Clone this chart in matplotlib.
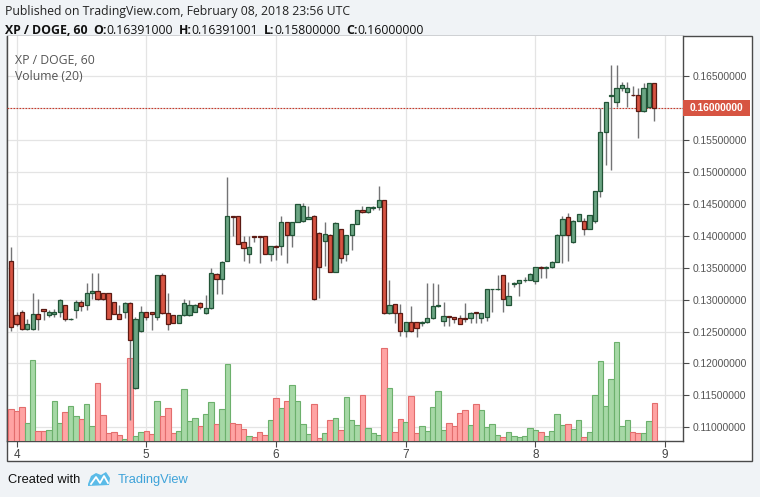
import numpy as np
import matplotlib
matplotlib.use('Agg')
import matplotlib.pyplot as plt
from matplotlib.patches import Rectangle, Polygon
from matplotlib.transforms import blended_transform_factory, ScaledTranslation

# ---------------- data (hourly candles, hours relative to Feb 4 00:00) ----------------
hours = list(range(-1, 119))
opens = [0.13605, 0.12755, 0.12802, 0.12536, 0.12536, 0.12775, 0.12849, 0.12755, 0.12780, 0.12807,
         0.12911, 0.12690, 0.12843, 0.12959, 0.12911, 0.13100, 0.13135, 0.13099, 0.13099, 0.12959,
         0.12775, 0.12802, 0.12943, 0.11612, 0.12505, 0.12802, 0.12802, 0.12724, 0.13381, 0.12797,
         0.12755, 0.12630, 0.12755, 0.12755, 0.12800, 0.12943, 0.12786, 0.12864, 0.13401, 0.13318,
         0.13605, 0.14310, 0.14309, 0.13902, 0.13710, 0.13992, 0.13992, 0.13991, 0.13710, 0.13840,
         0.13840, 0.14210, 0.14007, 0.14210, 0.14236, 0.14260, 0.14304, 0.14038, 0.13913, 0.14012,
         0.13428, 0.14101, 0.13714, 0.14007, 0.14179, 0.14398, 0.14367, 0.14440, 0.14445, 0.14555,
         0.12786, 0.12927, 0.12786, 0.12509, 0.12645, 0.12645, 0.12630, 0.12645, 0.12708, 0.12900,
         0.12666, 0.12740, 0.12720, 0.12708, 0.12710, 0.12708, 0.12800, 0.12708, 0.12733, 0.13160,
         0.13160, 0.13386, 0.12911, 0.13250, 0.13256, 0.13300, 0.13303, 0.13296, 0.13510, 0.13500,
         0.13506, 0.13594, 0.14012, 0.14298, 0.13897, 0.14231, 0.14231, 0.14106, 0.14231, 0.14700,
         0.15619, 0.16190, 0.16098, 0.16308, 0.16245, 0.16210, 0.16203, 0.15952, 0.16020, 0.16391]
highs = [0.13819, 0.12811, 0.12830, 0.12697, 0.13109, 0.13010, 0.12850, 0.12838, 0.12850, 0.13010,
         0.12920, 0.12710, 0.12994, 0.12990, 0.13265, 0.13417, 0.13420, 0.13110, 0.13110, 0.12960,
         0.12910, 0.12960, 0.12960, 0.12720, 0.12905, 0.12810, 0.12810, 0.13390, 0.13412, 0.13100,
         0.12760, 0.12755, 0.13010, 0.12990, 0.12930, 0.12960, 0.13073, 0.13490, 0.13420, 0.13600,
         0.14915, 0.14310, 0.14310, 0.13996, 0.13990, 0.14000, 0.14000, 0.14000, 0.13840, 0.13850,
         0.14310, 0.14210, 0.14210, 0.14500, 0.14510, 0.14460, 0.14320, 0.14050, 0.14220, 0.14020,
         0.14210, 0.14110, 0.14010, 0.14180, 0.14400, 0.14470, 0.14450, 0.14470, 0.14779, 0.14560,
         0.13307, 0.12930, 0.12930, 0.12650, 0.12905, 0.12650, 0.12660, 0.13256, 0.13260, 0.13250,
         0.12963, 0.12740, 0.12720, 0.12760, 0.12950, 0.12810, 0.12800, 0.12790, 0.13170, 0.13170,
         0.13386, 0.13390, 0.13280, 0.13270, 0.13310, 0.13350, 0.13410, 0.13510, 0.13520, 0.13520,
         0.13600, 0.14020, 0.14314, 0.14351, 0.14250, 0.14340, 0.14280, 0.14320, 0.14700, 0.15994,
         0.16100, 0.16672, 0.16672, 0.16410, 0.16410, 0.16340, 0.16308, 0.16386, 0.16386, 0.16391001]
lows = [0.12514, 0.12588, 0.12520, 0.12530, 0.12530, 0.12530, 0.12681, 0.12724, 0.12720, 0.12720,
        0.12670, 0.12680, 0.12708, 0.12827, 0.12830, 0.13015, 0.13000, 0.13000, 0.12700, 0.12770,
        0.12690, 0.12710, 0.11116, 0.11600, 0.12500, 0.12681, 0.12525, 0.12680, 0.12780, 0.12525,
        0.12630, 0.12630, 0.12750, 0.12750, 0.12800, 0.12850, 0.12780, 0.12860, 0.13088, 0.13090,
        0.13600, 0.14000, 0.13871, 0.13610, 0.13570, 0.13900, 0.13570, 0.13710, 0.13610, 0.13620,
        0.13699, 0.13569, 0.13830, 0.14210, 0.14210, 0.14260, 0.13000, 0.13021, 0.13527, 0.13428,
        0.13428, 0.13570, 0.13610, 0.13770, 0.14180, 0.14360, 0.14360, 0.14400, 0.14400, 0.12780,
        0.12780, 0.12630, 0.12430, 0.12420, 0.12500, 0.12420, 0.12590, 0.12640, 0.12700, 0.12880,
        0.12580, 0.12580, 0.12630, 0.12610, 0.12650, 0.12630, 0.12630, 0.12630, 0.12660, 0.12810,
        0.13150, 0.12810, 0.12910, 0.13200, 0.13050, 0.13280, 0.13300, 0.13245, 0.13334, 0.13330,
        0.13500, 0.13590, 0.13569, 0.13610, 0.13890, 0.14230, 0.14010, 0.14100, 0.14200, 0.14611,
        0.15107, 0.15029, 0.16020, 0.16260, 0.16020, 0.16180, 0.15525, 0.15940, 0.16000, 0.15800]
closes = [0.12577, 0.12614, 0.12536, 0.12614, 0.12775, 0.12702, 0.12827, 0.12807, 0.12810, 0.12994,
          0.12692, 0.12700, 0.12959, 0.12900, 0.13099, 0.13135, 0.13005, 0.13015, 0.12702, 0.12775,
          0.12690, 0.12943, 0.12364, 0.12702, 0.12802, 0.12724, 0.12770, 0.13381, 0.12786, 0.12619,
          0.12630, 0.12755, 0.12943, 0.12921, 0.12910, 0.12880, 0.12864, 0.13412, 0.13318, 0.13594,
          0.14309, 0.14300, 0.13871, 0.13803, 0.13824, 0.13980, 0.13980, 0.13710, 0.13840, 0.13830,
          0.14210, 0.14007, 0.14210, 0.14492, 0.14465, 0.14300, 0.13005, 0.13516, 0.14023, 0.13428,
          0.14195, 0.13656, 0.14007, 0.14179, 0.14398, 0.14367, 0.14445, 0.14450, 0.14555, 0.12786,
          0.12911, 0.12786, 0.12509, 0.12645, 0.12509, 0.12561, 0.12650, 0.12708, 0.12905, 0.12910,
          0.12744, 0.12720, 0.12700, 0.12614, 0.12700, 0.12796, 0.12790, 0.12786, 0.13167, 0.13170,
          0.13170, 0.13005, 0.13057, 0.13260, 0.13303, 0.13310, 0.13401, 0.13506, 0.13500, 0.13510,
          0.13594, 0.14012, 0.14257, 0.14012, 0.14231, 0.14336, 0.14106, 0.14320, 0.14700, 0.15619,
          0.16098, 0.16210, 0.16308, 0.16355, 0.16308, 0.16200, 0.15952, 0.16308, 0.16386, 0.16000]
volumes = [96, 90, 102, 53, 239, 30, 30, 33, 120, 54,
           87, 105, 75, 66, 111, 45, 171, 78, 24, 27,
           18, 6, 245, 15, 27, 30, 21, 120, 75, 99,
           24, 30, 153, 60, 69, 45, 81, 117, 51, 96,
           227, 54, 51, 36, 15, 12, 27, 18, 63, 126,
           99, 120, 165, 120, 51, 21, 111, 9, 24, 63,
           69, 33, 129, 63, 48, 135, 39, 24, 18, 276,
           156, 27, 66, 57, 132, 24, 45, 30, 102, 147,
           33, 54, 45, 82, 93, 48, 111, 93, 42, 51,
           18, 12, 27, 15, 12, 15, 39, 33, 27, 15,
           30, 81, 48, 51, 36, 63, 12, 27, 135, 236,
           105, 183, 293, 45, 63, 27, 23, 24, 60, 113]
day_ticks = [0, 24, 48, 72, 96, 120]
day_labels = ['4', '5', '6', '7', '8', '9']
price_ticks = [0.110, 0.115, 0.120, 0.125, 0.130, 0.135, 0.140, 0.145, 0.150, 0.155, 0.160, 0.165]
last_price = 0.16
header_line = "Published on TradingView.com, February 08, 2018 23:56 UTC"
symbol = "XP / DOGE, 60"
ohlc_header = [("O:", "0.16391000"), ("H:", "0.16391001"), ("L:", "0.15800000"), ("C:", "0.16000000")]

# ---------------- styles ----------------
UP, DOWN = '#6ba583', '#d75442'
UP_EDGE, DOWN_EDGE = '#225437', '#5b1a13'
WICK = '#737375'
VUP, VDOWN = '#a6d8a6', '#ffa3a3'
VUP_E, VDOWN_E = '#6cb06c', '#e36d6d'
FRAME = '#4a4a4a'
SANS = ['Liberation Sans']

W, H = 760, 497
fig = plt.figure(figsize=(W / 100, H / 100), dpi=100, facecolor='#f0f3f6')


def fx(px):
    return px / W


def fy(py):
    return 1 - py / H


# outer white panel
fig.add_artist(Rectangle((fx(7), fy(461)), fx(752) - fx(7), fy(36) - fy(461),
                         transform=fig.transFigure, facecolor='white',
                         edgecolor=FRAME, lw=1.0, zorder=0))

pos = [fx(7), fy(441), (683 - 7) / W, (441 - 36) / H]
ax = fig.add_axes(pos, zorder=1)
ax_v = fig.add_axes(pos, sharex=ax, zorder=2)
ax_c = fig.add_axes(pos, sharex=ax, sharey=ax, zorder=3)
for a in (ax_v, ax_c):
    a.patch.set_visible(False)
    a.axis('off')

ax.set_facecolor('white')
ax.set_xlim(-1.76, 123.3)
ax.set_ylim(0.10786, 0.17126)

# grid + ticks (the tick at the last price is covered by the price label)
ax.set_yticks(price_ticks)
ax.set_yticklabels(['' if abs(p - last_price) < 1e-9 else f'{p:.8f}' for p in price_ticks])
ax.yaxis.tick_right()
ax.set_xticks(day_ticks)
ax.set_xticklabels(day_labels)
ax.grid(True, color='#e4e4e4', lw=0.9)
ax.set_axisbelow(True)
ax.tick_params(axis='y', right=True, left=False, length=4, width=0.8, color=FRAME,
               labelcolor='#555555', labelsize=7.4, pad=3)
ax.tick_params(axis='x', bottom=True, length=4, width=0.8, color=FRAME,
               labelcolor='#444444', labelsize=8.5, pad=2)
for lab in ax.get_xticklabels() + ax.get_yticklabels():
    lab.set_family(SANS)
ax.spines['top'].set_visible(False)
for s in ('left', 'right', 'bottom'):
    ax.spines[s].set_color(FRAME)
    ax.spines[s].set_linewidth(1.0)

# volume
o = np.array(opens)
c = np.array(closes)
up = c >= o
ax_v.bar(hours, volumes, width=1.0,
         color=[VUP if u else VDOWN for u in up],
         edgecolor=[VUP_E if u else VDOWN_E for u in up], linewidth=0.8)
ax_v.set_ylim(0, 1200)

# candles
ax_c.vlines(hours, lows, highs, color=WICK, lw=1.0, zorder=2)
ax_c.bar(hours, np.abs(c - o), bottom=np.minimum(o, c), width=0.78,
         color=[UP if u else DOWN for u in up],
         edgecolor=[UP_EDGE if u else DOWN_EDGE for u in up], linewidth=0.9, zorder=3)
ax_c.axhline(last_price, color='#c8392b', lw=0.8, ls=(0, (1.5, 1.2)), zorder=1)

# last price label on the price scale
anchor = blended_transform_factory(fig.transFigure, ax.transData)
box_tr = fig.dpi_scale_trans + ScaledTranslation(fx(683), last_price, anchor)
fig.add_artist(Rectangle((0, -0.08), 0.67, 0.16, transform=box_tr,
                         facecolor=DOWN, edgecolor='none', zorder=5))
fig.text(0.07, 0, f'{last_price:.8f}', transform=box_tr, ha='left', va='center',
         color='white', fontsize=7.4, fontweight='bold', family=SANS, zorder=6)

# in-chart labels
fig.text(fx(15), fy(61), symbol, va='center', ha='left', color='#555555',
         fontsize=8.8, family='Open Sans', zorder=6)
fig.text(fx(15), fy(77), 'Volume (20)', va='center', ha='left', color='#555555',
         fontsize=8.8, family='Open Sans', zorder=6)

# header
HFS = 8.8
fig.text(fx(5), fy(11), header_line, va='center', ha='left', color='#222222',
         fontsize=HFS, family='Open Sans')
prev = fig.text(fx(5), fy(30), symbol, va='center', ha='left', color='#111111',
                fontsize=HFS, family='Open Sans', fontweight='bold')
for k, v in ohlc_header:
    t1 = fig.text(0, 0, '')
    t1.remove()
    t1 = plt.annotate(k, xy=(1, 0.5), xycoords=prev, xytext=(4, 0), textcoords='offset points',
                      va='center', ha='left', color='#111111', fontsize=HFS,
                      family='Open Sans', fontweight='bold', annotation_clip=False)
    prev = plt.annotate(v, xy=(1, 0.5), xycoords=t1, xytext=(0, 0), textcoords='offset points',
                        va='center', ha='left', color='#111111', fontsize=HFS,
                        family='Open Sans', annotation_clip=False)

# footer
fig.text(fx(8), fy(480), 'Created with', va='center', ha='left', color='#111111',
         fontsize=9.3, family=SANS)
logo = [(88, 484), (91, 476), (96, 473), (101, 475), (106, 472), (110, 478), (109, 485), (88, 486)]
fig.add_artist(Polygon([(fx(x), fy(y)) for x, y in logo], closed=True,
                       transform=fig.transFigure, facecolor='#5bbbe8', edgecolor='none'))
zig = [(91, 484), (96, 477), (100, 483), (104, 476), (108, 483)]
fig.add_artist(plt.Line2D([fx(x) for x, y in zig], [fy(y) for x, y in zig],
                          transform=fig.transFigure, color='white', lw=1.3))
fig.text(fx(118), fy(480), 'TradingView', va='center', ha='left', color='#3fa3d9',
         fontsize=9.3, family=SANS)

fig.savefig('out.png', dpi=100, facecolor=fig.get_facecolor())
